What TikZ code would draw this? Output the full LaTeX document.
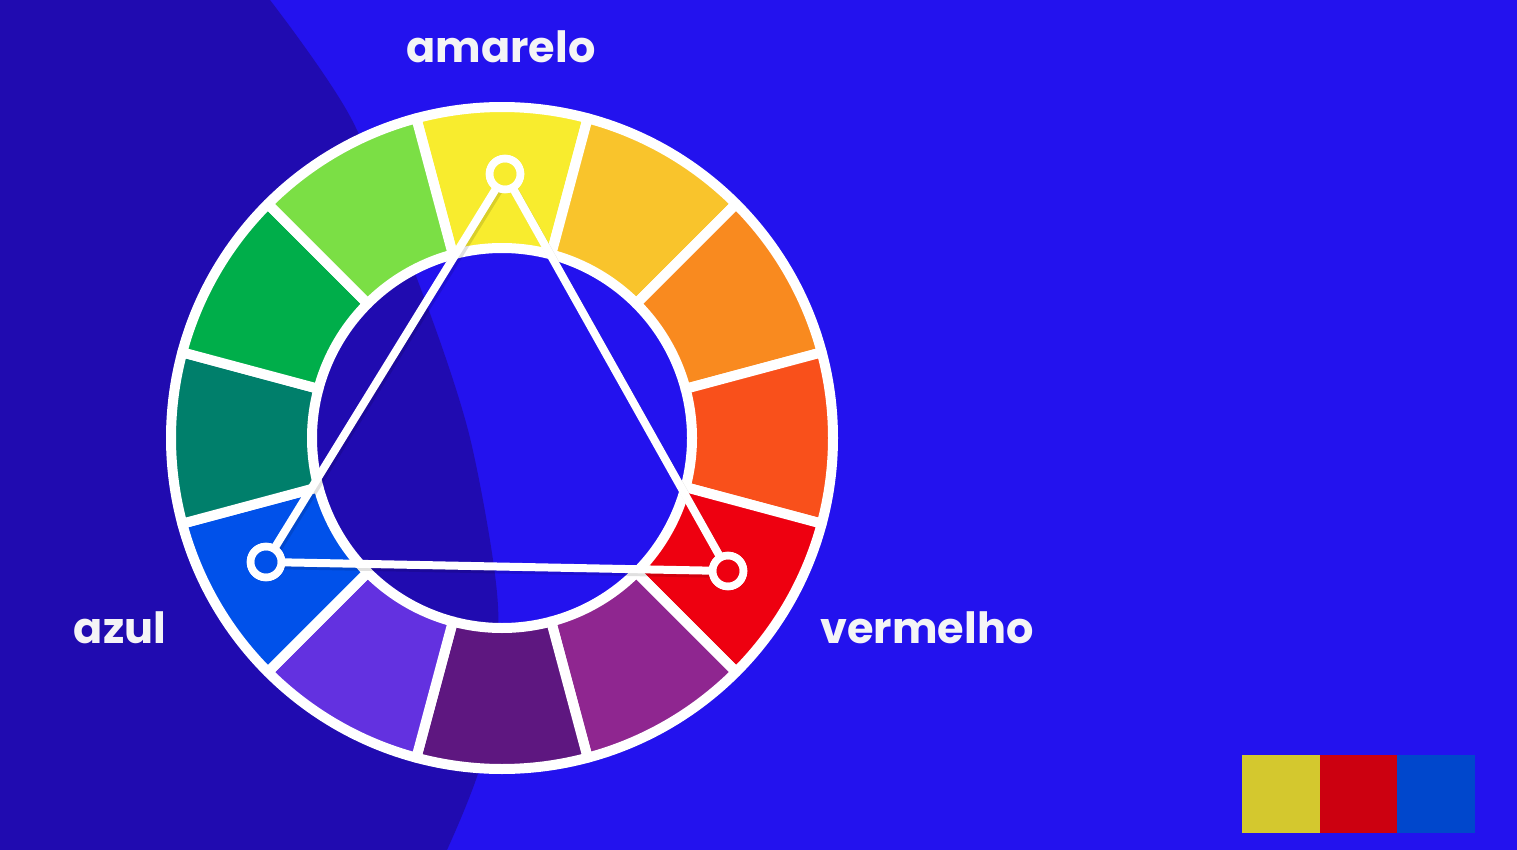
\documentclass[tikz,border=0pt]{standalone}
\usepackage{fontspec}
\newfontfamily\pop{Poppins}
\usetikzlibrary{calc}
\definecolor{bgblue}{HTML}{2312EE}
\definecolor{bgdark}{HTML}{200BB0}
\definecolor{cY}{HTML}{F8EC2E}
\definecolor{cYO}{HTML}{F9C42C}
\definecolor{cO}{HTML}{F98A1F}
\definecolor{cRO}{HTML}{F9501B}
\definecolor{cR}{HTML}{EE0010}
\definecolor{cRV}{HTML}{8F2690}
\definecolor{cV}{HTML}{5E1780}
\definecolor{cBV}{HTML}{6331E0}
\definecolor{cB}{HTML}{0051EA}
\definecolor{cBG}{HTML}{007F6B}
\definecolor{cG}{HTML}{00AE4A}
\definecolor{cYG}{HTML}{7BDF45}
\definecolor{sqY}{HTML}{D4C82E}
\definecolor{sqR}{HTML}{CC0010}
\definecolor{sqB}{HTML}{0047CC}
\definecolor{txt}{HTML}{F4F4F6}
\begin{document}
\begin{tikzpicture}[x=1pt,y=1pt,
  seg/.style={draw=white, line width=10pt, line join=round},
  vtx/.style={circle, draw=white, line width=7.5pt, minimum size=31pt, inner sep=0pt, outer sep=0pt},
  tri/.style={draw=white, line width=8pt},
  trishadow/.style={draw=black, opacity=0.12, line width=8pt},
  lbl/.style={text=txt, font=\pop\bfseries\fontsize{43}{48}\selectfont, anchor=base, inner sep=0pt}
]
\useasboundingbox (0,0) rectangle (1517,-850);
\fill[bgblue] (0,0) rectangle (1517,-850);
\fill[bgdark] (0,0) -- plot[smooth] coordinates {(270,0) (352,-120) (425,-300) (468,-430) (493,-560) (498,-640) (482,-760) (447,-850)} -- (0,-850) -- cycle;

\coordinate (C) at (502,-438);
\foreach \a/\c in {90/cY,60/cYO,30/cO,0/cRO,-30/cR,-60/cRV,-90/cV,-120/cBV,-150/cB,180/cBG,150/cG,120/cYG}{
  \path[seg, fill=\c] ($(C)+(\a-15:331pt)$) arc[start angle=\a-15, end angle=\a+15, radius=331pt]
    -- ($(C)+(\a+15:190pt)$) arc[start angle=\a+15, end angle=\a-15, radius=190pt] -- cycle;
}

\node[vtx] (Y) at (505,-174) {};
\node[vtx] (B) at (266,-562) {};
\node[vtx] (R) at (728,-571) {};
\begin{scope}[transform canvas={shift={(2pt,-3pt)}}]
\draw[trishadow] (Y) -- (B);
\draw[trishadow] (B) -- (R);
\draw[trishadow] (R) -- (Y);
\end{scope}
\draw[tri] (Y) -- (B);
\draw[tri] (B) -- (R);
\draw[tri] (R) -- (Y);
\node[vtx] at (Y) {};
\node[vtx] at (B) {};
\node[vtx] at (R) {};

\node[lbl] (lY) at (501,-63) {amarelo};
\node[lbl] (lB) at (120,-643) {azul};
\node[lbl] (lR) at (927,-643) {vermelho};

\fill[sqY] (1242,-755) rectangle (1320,-833);
\fill[sqR] (1320,-755) rectangle (1397,-833);
\fill[sqB] (1397,-755) rectangle (1475,-833);
\end{tikzpicture}
\end{document}
